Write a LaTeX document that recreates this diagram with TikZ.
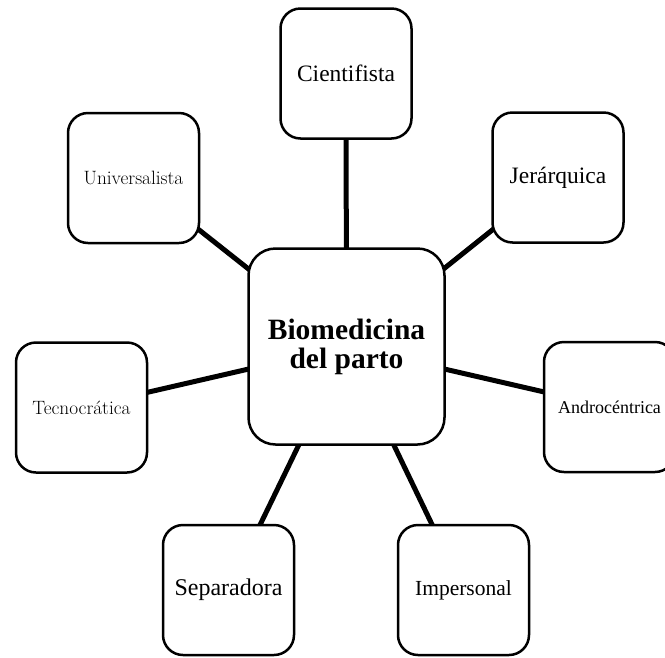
\documentclass[tikz,border=0pt]{standalone}
\usepackage{fontspec}
\newfontfamily\serifb{Liberation Serif}
\usetikzlibrary{backgrounds}
\tikzset{
  card/.style={draw=black, line width=2.5pt, fill=white, rounded corners=20pt,
    minimum width=131pt, minimum height=130pt, inner sep=0pt, align=center},
  hub/.style={card, rounded corners=27pt, minimum width=196pt, minimum height=196pt},
  link/.style={draw=black, line width=5pt},
  gtext/.style={font=\serifb\fontsize{#1}{#1}\selectfont},
  ltext/.style={font=\fontsize{#1}{#1}\selectfont}
}
\begin{document}
\begin{tikzpicture}[x=1pt, y=-1pt]
  \useasboundingbox (0,0) rectangle (665,657);
  \clip (0,0) rectangle (665,657);

  % central concept
  \node[hub, font=\serifb\bfseries\fontsize{29.5}{29}\selectfont] (hub) at (346.5,346.5)
    {\raisebox{-2pt}{Biomedicina}\\\raisebox{-2pt}{del parto}};

  % surrounding traits
  \node[card, gtext=23.5] (cien) at (346,73.5) {\raisebox{-2pt}{Cientifista}};
  \node[card, gtext=23.5] (jer)  at (558,177.5) {Jerárquica};
  \node[card, ltext=19.3] (univ) at (133.5,178) {Universalista};
  \node[card, ltext=19.3] (tec)  at (81.5,407.5) {Tecnocrática};
  \node[card, gtext=18]   (andr) at (609.5,407) {Androcéntrica};
  \node[card, gtext=24]   (sep)  at (228.5,590) {Separadora};
  \node[card, gtext=21.5] (imp)  at (463.5,590) {Impersonal};

  % spokes, drawn behind the boxes
  \begin{scope}[on background layer]
    \foreach \n in {cien, jer, univ, tec, andr, sep, imp}
      \draw[link] (hub.center) -- (\n.center);
  \end{scope}
\end{tikzpicture}
\end{document}
